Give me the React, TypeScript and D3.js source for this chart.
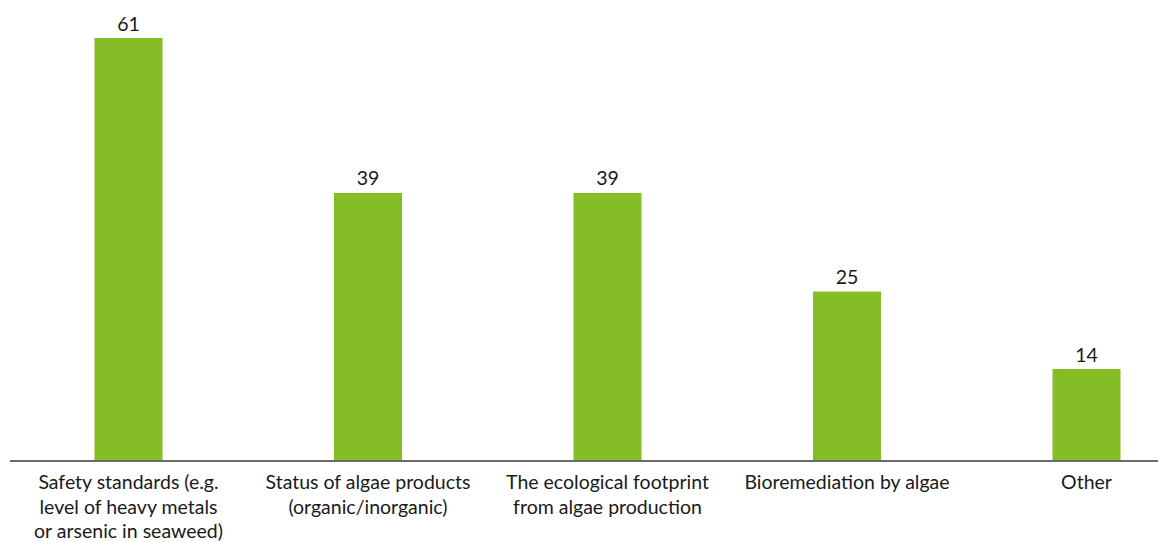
import React from "react";
import * as d3 from "d3";

const categories = [
  "Safety standards (e.g. level of heavy metals or arsenic in seaweed)",
  "Status of algae products (organic/inorganic)",
  "The ecological footprint from algae production",
  "Bioremediation by algae",
  "Other",
];
const labelLines = [
  ["Safety standards (e.g.", "level of heavy metals", "or arsenic in seaweed)"],
  ["Status of algae products", "(organic/inorganic)"],
  ["The ecological footprint", "from algae production"],
  ["Bioremediation by algae"],
  ["Other"],
];
const values = [61, 39, 39, 25, 14];

const W = 1158;
const H = 542;
const baseY = 460;
const FONT = "Lato, 'Open Sans', sans-serif";

export default function App() {
  const x = d3
    .scaleBand<string>()
    .domain(categories)
    .range([8.75, 1206.25])
    .paddingInner(0.716)
    .paddingOuter(0.358);
  const y = d3.scaleLinear().domain([1.08, 66.4]).range([baseY, 0]);

  return (
    <svg
      width={W}
      height={H}
      style={{ position: "absolute", left: 0, top: 0, background: "#fff" }}
      fontFamily={FONT}
    >
      {categories.map((c, i) => (
        <g key={c}>
          <rect
            x={x(c)}
            y={y(values[i])}
            width={x.bandwidth()}
            height={baseY - y(values[i])}
            fill="#86BC25"
          />
          <text
            x={(x(c) as number) + x.bandwidth() / 2}
            y={y(values[i]) - 7.5}
            textAnchor="middle"
            fontSize={19.5}
            fill="#1a1a1a"
          >
            {values[i]}
          </text>
          <text
            x={(x(c) as number) + x.bandwidth() / 2}
            y={489}
            textAnchor="middle"
            fontSize={19.5}
            fill="#1a1a1a"
          >
            {labelLines[i].map((l, j) => (
              <tspan key={j} x={(x(c) as number) + x.bandwidth() / 2} dy={j === 0 ? 0 : 24.5}>
                {l}
              </tspan>
            ))}
          </text>
        </g>
      ))}
      <line x1={10} x2={W} y1={baseY + 1} y2={baseY + 1} stroke="#6b6b6b" strokeWidth={2} />
    </svg>
  );
}
